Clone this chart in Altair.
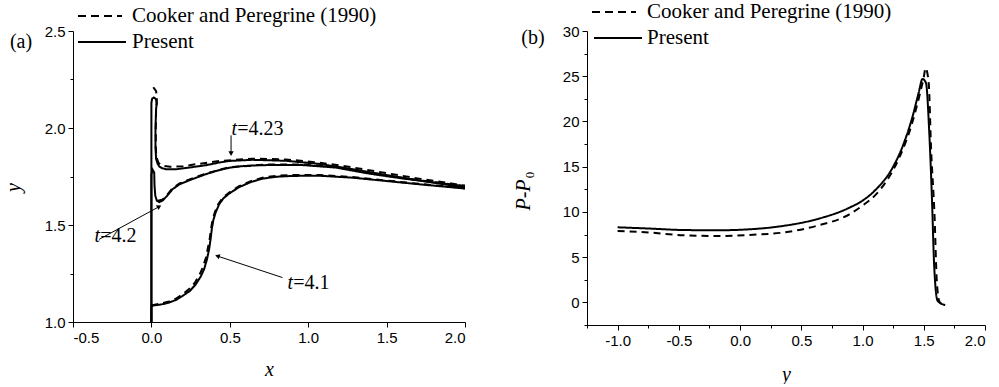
import altair as alt
import pandas as pd

# ---------------- Panel (a): free-surface profiles ----------------
a41_p_x = [0.0, 0.0, 0.01, 0.06, 0.113, 0.16, 0.198, 0.245, 0.283, 0.315, 0.336, 0.355, 0.368, 0.378, 0.385, 0.395, 0.41, 0.432, 0.46, 0.496, 0.559, 0.63, 0.708, 0.80, 0.90, 1.07, 1.282, 1.495, 1.707, 2.0]
a41_p_y = [1.0, 1.08, 1.085, 1.09, 1.10, 1.115, 1.134, 1.16, 1.194, 1.235, 1.272, 1.325, 1.375, 1.43, 1.478, 1.525, 1.565, 1.607, 1.638, 1.662, 1.695, 1.72, 1.739, 1.749, 1.753, 1.754, 1.744, 1.727, 1.71, 1.688]
a41_c_x = [0.0, 0.06, 0.113, 0.16, 0.198, 0.24, 0.275, 0.305, 0.327, 0.347, 0.36, 0.372, 0.38, 0.39, 0.405, 0.428, 0.456, 0.496, 0.559, 0.63, 0.708, 0.80, 0.90, 1.07, 1.282, 1.495, 1.707, 2.0]
a41_c_y = [1.085, 1.095, 1.106, 1.122, 1.142, 1.17, 1.20, 1.24, 1.28, 1.33, 1.38, 1.43, 1.48, 1.525, 1.567, 1.61, 1.642, 1.667, 1.70, 1.725, 1.744, 1.754, 1.758, 1.758, 1.747, 1.73, 1.712, 1.69]

a42_p_x = [0.0, 0.0, 0.008, 0.018, 0.02, 0.025, 0.035, 0.05, 0.07, 0.1, 0.134, 0.18, 0.24, 0.3, 0.347, 0.42, 0.496, 0.559, 0.65, 0.75, 0.963, 1.176, 1.388, 1.6, 1.814, 2.0]
a42_p_y = [1.0, 1.76, 1.785, 1.77, 1.70, 1.65, 1.625, 1.618, 1.625, 1.65, 1.684, 1.71, 1.73, 1.748, 1.762, 1.78, 1.795, 1.802, 1.807, 1.809, 1.809, 1.796, 1.765, 1.74, 1.718, 1.70]
a42_c_x = [0.04, 0.07, 0.1, 0.134, 0.18, 0.24, 0.347, 0.496, 0.75, 0.963, 1.176, 1.388, 1.6, 1.814, 2.0]
a42_c_y = [1.625, 1.63, 1.655, 1.689, 1.714, 1.734, 1.765, 1.798, 1.812, 1.812, 1.799, 1.768, 1.742, 1.72, 1.70]

a423_p_x = [0.0, 0.0, 0.005, 0.015, 0.028, 0.035, 0.03, 0.026, 0.026, 0.03, 0.04, 0.05, 0.07, 0.092, 0.156, 0.24, 0.347, 0.432, 0.496, 0.644, 0.857, 1.07, 1.282, 1.495, 1.707, 2.0]
a423_p_y = [1.0, 2.13, 2.152, 2.157, 2.15, 2.13, 2.10, 2.0, 1.90, 1.84, 1.815, 1.802, 1.792, 1.788, 1.787, 1.796, 1.808, 1.822, 1.83, 1.836, 1.831, 1.815, 1.788, 1.758, 1.73, 1.693]
a423_c_x = [0.012, 0.03, 0.035, 0.03, 0.028, 0.028, 0.032, 0.045, 0.07, 0.12, 0.2, 0.3, 0.432, 0.644, 0.857, 1.07, 1.282, 1.495, 1.707, 2.0]
a423_c_y = [2.21, 2.19, 2.15, 2.10, 2.0, 1.90, 1.85, 1.82, 1.805, 1.80, 1.803, 1.815, 1.83, 1.842, 1.838, 1.822, 1.797, 1.768, 1.739, 1.703]

# annotations (a)
ann_text_t = ["t", "t", "t"]
ann_text_rest = ["=4.23", "=4.2", "=4.1"]
ann_x = [0.547, -0.327, 0.904]
ann_y = [1.993, 1.443, 1.203]
arrow_x1 = [0.508, -0.333, 0.836]
arrow_y1 = [1.962, 1.426, 1.229]
arrow_x2 = [0.508, 0.05, 0.421]
arrow_y2 = [1.868, 1.595, 1.34]

a_xticks = [-0.5, -0.25, 0.0, 0.25, 0.5, 0.75, 1.0, 1.25, 1.5, 1.75, 2.0]
a_yticks = [1.0, 1.25, 1.5, 1.75, 2.0, 2.25, 2.5]

# ---------------- Panel (b): pressure ----------------
b_p_x = [-1.0, -0.737, -0.465, -0.193, 0.078, 0.35, 0.622, 0.893, 1.0, 1.11, 1.246, 1.328, 1.409, 1.458, 1.49, 1.518, 1.545, 1.567, 1.585, 1.613, 1.675]
b_p_y = [8.3, 8.16, 8.0, 7.97, 8.08, 8.45, 9.18, 10.47, 11.25, 12.49, 14.9, 17.27, 20.57, 23.15, 24.7, 24.26, 18.74, 11.39, 4.04, 0.18, -0.30]
b_c_x = [-1.0, -0.737, -0.465, -0.193, 0.078, 0.35, 0.622, 0.893, 1.0, 1.11, 1.2, 1.3, 1.4, 1.46, 1.5, 1.515, 1.54, 1.56, 1.588, 1.607, 1.63, 1.65]
b_c_y = [7.9, 7.72, 7.42, 7.34, 7.46, 7.72, 8.45, 9.74, 10.7, 11.94, 13.5, 16.0, 19.6, 22.6, 24.9, 25.9, 24.3, 16.9, 9.55, 2.2, 0.0, -0.19]

b_xticks = [-1.25, -1.0, -0.75, -0.5, -0.25, 0.0, 0.25, 0.5, 0.75, 1.0, 1.25, 1.5, 1.75, 2.0]
b_yticks = [-2.5, 0, 2.5, 5, 7.5, 10, 12.5, 15, 17.5, 20, 22.5, 25, 27.5, 30]

SRC_C = "Cooker and Peregrine (1990)"
SRC_P = "Present"


def rows(series, src, xs, ys):
    return [{"series": series, "src": src, "x": x, "y": y, "i": k} for k, (x, y) in enumerate(zip(xs, ys))]


dfa = pd.DataFrame(
    rows("4.1c", SRC_C, a41_c_x, a41_c_y) + rows("4.2c", SRC_C, a42_c_x, a42_c_y) + rows("4.23c", SRC_C, a423_c_x, a423_c_y)
    + rows("4.1p", SRC_P, a41_p_x, a41_p_y) + rows("4.2p", SRC_P, a42_p_x, a42_p_y) + rows("4.23p", SRC_P, a423_p_x, a423_p_y)
)
dfb = pd.DataFrame(rows("bc", SRC_C, b_c_x, b_c_y) + rows("bp", SRC_P, b_p_x, b_p_y))

SERIF = "Liberation Serif"
dash_scale = alt.Scale(domain=[SRC_C, SRC_P], range=[[7, 5], [1, 0]])


def tick_axis(step, fmt, title, **kw):
    test = f"abs(datum.value % {step}) < 1e-6"
    return alt.Axis(
        labelExpr=f"{test} ? replace(format(datum.value, '{fmt}'), '\u2212', '-') : ''",
        tickSize={"condition": {"test": test, "value": 5}, "value": 3},
        title=title,
        **kw,
    )


one = pd.DataFrame({"k": [0]})


def legend_layers(dash_x, solid_x, y_d, y_s, text_x, label, label_x, label_y):
    base = alt.Chart(one)
    return [
        base.mark_rule(color="black", strokeWidth=2, strokeDash=[8, 5]).encode(
            x=alt.value(dash_x[0]), x2=alt.value(dash_x[1]), y=alt.value(y_d)),
        base.mark_rule(color="black", strokeWidth=2).encode(
            x=alt.value(solid_x[0]), x2=alt.value(solid_x[1]), y=alt.value(y_s)),
        base.mark_text(text=SRC_C, font=SERIF, fontSize=21, align="left", baseline="middle", color="black").encode(
            x=alt.value(text_x), y=alt.value(y_d)),
        base.mark_text(text=SRC_P, font=SERIF, fontSize=21, align="left", baseline="middle", color="black").encode(
            x=alt.value(text_x), y=alt.value(y_s)),
        base.mark_text(text=label, font=SERIF, fontSize=20, align="center", baseline="middle", color="black").encode(
            x=alt.value(label_x), y=alt.value(label_y)),
    ]


# ----- panel a -----
xa = alt.X("x:Q", scale=alt.Scale(domain=[-0.5, 2.0], nice=False, zero=False),
           axis=tick_axis(0.5, ".1f", "x", values=a_xticks, titleBaseline="middle", titleY=47))
ya = alt.Y("y:Q", scale=alt.Scale(domain=[1.0, 2.5], nice=False, zero=False),
           axis=tick_axis(0.5, ".1f", "y", values=a_yticks, titleBaseline="middle", titleX=-60, titleY=156, titleAngle=270))

lines_a = alt.Chart(dfa).mark_line(color="black", strokeWidth=2, clip=True).encode(
    x=xa, y=ya, detail="series:N", order="i:Q",
    strokeDash=alt.StrokeDash("src:N", scale=dash_scale, legend=None),
)

dfann = pd.DataFrame({"t": ann_text_t, "rest": ann_text_rest, "x": ann_x, "y": ann_y})
ann_t = alt.Chart(dfann).mark_text(font=SERIF, fontSize=20, fontStyle="italic", align="right", baseline="middle", color="black").encode(
    x="x:Q", y="y:Q", text="t:N")
ann_r = alt.Chart(dfann).mark_text(font=SERIF, fontSize=20, align="left", baseline="middle", color="black").encode(
    x="x:Q", y="y:Q", text="rest:N")

dfarr = pd.DataFrame({"x1": arrow_x1, "y1": arrow_y1, "x2": arrow_x2, "y2": arrow_y2})
arr_lines = alt.Chart(dfarr).mark_rule(color="black", strokeWidth=1).encode(
    x="x1:Q", y="y1:Q", x2="x2:Q", y2="y2:Q")
heads = []
for k, ang in enumerate([180, 61, 288]):
    heads.append(alt.Chart(dfarr.iloc[[k]]).mark_point(shape="triangle-up", filled=True, color="black", size=28, angle=ang, opacity=1).encode(
        x="x2:Q", y="y2:Q"))

panel_a = alt.layer(
    lines_a, ann_t, ann_r, arr_lines, *heads,
    *legend_layers((5, 49), (5, 53), -15, 11, 59, "(a)", -52, 11),
).properties(width=392, height=291)

# ----- panel b -----
xb = alt.X("x:Q", scale=alt.Scale(domain=[-1.25, 2.0], nice=False, zero=False),
           axis=tick_axis(0.5, ".1f", "y", values=b_xticks, titleBaseline="middle", titleY=49))
yb = alt.Y("y:Q", scale=alt.Scale(domain=[-2.5, 30], nice=False, zero=False),
           axis=tick_axis(5, "d", None, values=b_yticks))

lines_b = alt.Chart(dfb).mark_line(color="black", strokeWidth=2, clip=True, interpolate="monotone").encode(
    x=xb, y=yb, detail="series:N", order="i:Q",
    strokeDash=alt.StrokeDash("src:N", scale=dash_scale, legend=None),
)

ytitle_b = [
    alt.Chart(one).mark_text(text="P-P", font=SERIF, fontSize=20, fontStyle="italic", angle=270,
                             align="center", baseline="middle", color="black").encode(x=alt.value(-63), y=alt.value(164)),
    alt.Chart(one).mark_text(text="0", font=SERIF, fontSize=13, angle=270,
                             align="center", baseline="middle", color="black").encode(x=alt.value(-57), y=alt.value(144)),
]

panel_b = alt.layer(
    lines_b, *ytitle_b,
    *legend_layers((5, 49), (7, 55), -19, 7, 60, "(b)", -54, 7),
).properties(width=398, height=294)

chart = alt.hconcat(panel_a, panel_b, spacing=122, bounds="flush").resolve_scale(
    x="independent", y="independent", strokeDash="shared"
).properties(
    padding={"left": 3, "top": 1, "right": 0, "bottom": 0}
).configure_view(stroke=None).configure_axis(
    domainColor="black", tickColor="black", labelColor="black",
    labelFont="Liberation Sans", labelFontSize=15, labelPadding=3,
    titleFont=SERIF, titleFontSize=20, titleFontStyle="italic", titleFontWeight="normal", titleColor="black",
    grid=False, domainWidth=1, tickWidth=1,
)

chart.save("out.html", embed_options={"renderer": "svg", "actions": False})
